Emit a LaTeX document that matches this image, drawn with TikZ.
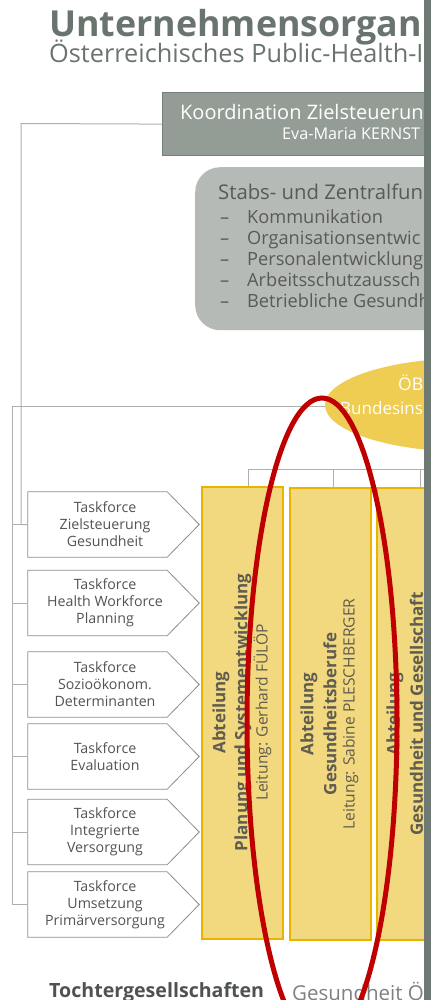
\documentclass[tikz,border=0pt]{standalone}
\usepackage{fontspec}
\setmainfont{Open Sans}
\usetikzlibrary{shapes.geometric}
\definecolor{titlec}{RGB}{106,116,111}
\definecolor{barc}{RGB}{112,122,116}
\definecolor{koordfill}{RGB}{148,156,150}
\definecolor{koordline}{RGB}{118,128,122}
\definecolor{stabsfill}{RGB}{182,186,183}
\definecolor{stabstext}{RGB}{88,90,89}
\definecolor{linec}{RGB}{172,177,174}
\definecolor{tfline}{RGB}{140,142,141}
\definecolor{tftext}{RGB}{82,84,83}
\definecolor{abtfill}{RGB}{242,217,128}
\definecolor{abtline}{RGB}{232,180,0}
\definecolor{abttext}{RGB}{95,92,80}
\definecolor{ellfill}{RGB}{239,204,82}
\definecolor{markred}{RGB}{192,0,0}
\definecolor{bottomc}{RGB}{78,83,80}
\definecolor{bottomlight}{RGB}{125,130,127}
\tikzset{
  conn/.style={draw=linec, line width=1pt},
  tfbox/.style={minimum width=154pt, minimum height=65pt, inner sep=0pt, align=center,
    text=tftext, font=\fontsize{14.2}{17}\selectfont},
  tfshape/.style={draw=tfline, fill=white, line width=0.8pt, line join=miter},
  abtbox/.style={draw=abtline, fill=abtfill, line width=2pt, rotate=90,
    minimum width=452pt, minimum height=81pt, inner sep=0pt},
  abthead/.style={rotate=90, inner sep=0pt, text=abttext, font=\fontsize{17}{21}\selectfont\bfseries},
  abtlead/.style={rotate=90, inner sep=0pt, text=abttext, font=\fontsize{15.6}{19}\selectfont},
  txt/.style={anchor=base west, inner sep=0pt},
}
\begin{document}
\begin{tikzpicture}[x=1pt, y=-1pt]
\useasboundingbox (0,0) rectangle (431,1000);
\fill[white] (0,0) rectangle (431,1000);
\begin{scope}
\clip (0,0) rectangle (424,1000);

% title
\node[txt, text=titlec, font=\fontsize{35.8}{40}\selectfont\bfseries] (title) at (49,37) {Unternehmensorgan};
\node[txt, text=titlec, font=\fontsize{25.3}{28}\selectfont] (subtitle) at (49,63) {Österreichisches Public-Health-I};

% boxes on top
\node[draw=koordline, fill=koordfill, line width=1.2pt, anchor=north west,
  minimum width=300pt, minimum height=63pt, inner sep=0pt] (koord) at (162,92) {};
\node[txt, text=white, font=\fontsize{20}{24}\selectfont] (koordt) at (180,120) {Koordination Zielsteuerun};
\node[txt, text=white, font=\fontsize{16.2}{19}\selectfont] (koordn) at (282,140) {Eva-Maria KERNST};

\node[fill=stabsfill, rounded corners=25pt, anchor=north west,
  minimum width=300pt, minimum height=163pt, inner sep=0pt] (stabs) at (195,167) {};
\node[txt, text=stabstext, font=\fontsize{20.3}{24}\selectfont] (stabst) at (218,200) {Stabs- und Zentralfun};
\foreach \t [count=\i] in {Kommunikation, Organisationsentwic, Personalentwicklung, Arbeitsschutzaussch, Betriebliche Gesundh}{
  \node[txt, text=stabstext, font=\fontsize{18.2}{21}\selectfont] (sd\i) at (220,{202+\i*21}) {--};
  \node[txt, text=stabstext, font=\fontsize{18.2}{21}\selectfont] (si\i) at (247,{202+\i*21}) {\t};
}

% coordinates for bus lines
\coordinate (c21) at (21,123.5);
\coordinate (busL) at (12,406);
\coordinate (bus) at (440,469);

% taskforce boxes
\foreach \n/\y/\t in {1/524.5/{Taskforce\\Zielsteuerung\\Gesundheit},
                      2/603/{Taskforce\\Health Workforce\\Planning},
                      3/684.5/{Taskforce\\Sozioökonom.\\Determinanten},
                      4/756.5/{Taskforce\\Evaluation},
                      5/832/{Taskforce\\Integrierte\\Versorgung},
                      6/904.5/{Taskforce\\Umsetzung\\Primärversorgung}}{
  \node[tfbox] (t\n) at (105,\y) {};
  \draw[tfshape] (t\n.north west) -- ([xshift=-15pt]t\n.north east) -- ([xshift=17pt]t\n.east)
     -- ([xshift=-15pt]t\n.south east) -- (t\n.south west) -- cycle;
  \node[tfbox] at (t\n) {\t};
}

% connectors
\draw[conn] (koord.west) -- (c21) |- (t1.west);
\foreach \n in {1,...,6}{ \draw[conn] (busL) |- (t\n.west); }

% Abteilungen
\node[abtbox] (aA) at (242.5,712.5) {};
\node[abthead] (aA1) at (221,712.5) {Abteilung};
\node[abthead] (aA2) at (243,712.5) {Planung und Systementwicklung};
\node[abtlead] (aA3) at (262.5,712.5) {Leitung: Gerhard FÜLÖP};

\node[abtbox] (aB) at (330.5,714) {};
\node[abthead] (aB1) at (309,714) {Abteilung};
\node[abthead] (aB2) at (330,714) {Gesundheitsberufe};
\node[abtlead] (aB3) at (350.5,714) {Leitung: Sabine PLESCHBERGER};

\node[abtbox] (aC) at (417.5,713.5) {};
\node[abthead] (aC1) at (395,714) {Abteilung};
\node[abthead] (aC2) at (416.5,714) {Gesundheit und Gesellschaft};

\draw[conn] ([xshift=6pt]aA.east) |- (bus);
\draw[conn] ([xshift=2.5pt]aB.east) -- ([xshift=2.5pt]aB.east |- bus);
\draw[conn] ([xshift=3pt]aC.east) -- ([xshift=3pt]aC.east |- bus);

% Oebig ellipse
\draw[conn] (busL) -- (330,406);
\node[ellipse, fill=ellfill, minimum width=292pt, minimum height=94pt, inner sep=0pt] (oebig) at (471,405) {};
\node[txt, text=white, font=\fontsize{17.5}{20}\selectfont] (oebig1) at (398,390) {ÖB};
\node[txt, text=white, font=\fontsize{17}{20}\selectfont] (oebig2) at (340,414) {Bundesins};

% bottom
\node[txt, text=bottomc, font=\fontsize{19.6}{24}\selectfont\bfseries] (tochter) at (49,997) {Tochtergesellschaften};
\node[txt, text=bottomlight, font=\fontsize{20.5}{24}\selectfont] (goeg) at (292,1000) {Gesundheit Ö};

% red marking
\draw[markred, line width=5pt] (322,722) ellipse [x radius=75pt, y radius=324pt];
\end{scope}
\fill[barc] (424,0) rectangle (431,1000);
\end{tikzpicture}
\end{document}
